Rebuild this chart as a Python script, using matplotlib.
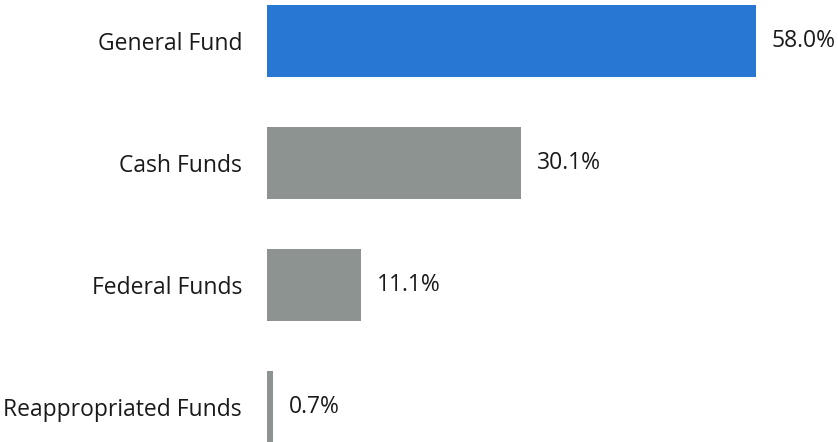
import matplotlib.pyplot as plt

# данные
categories = ['General Fund', 'Cash Funds', 'Federal Funds', 'Reappropriated Funds']
shares = [58.0, 30.1, 11.1, 0.7]
bar_colors = ['#2777D3', '#8C9391', '#8C9391', '#8C9391']

plt.rcParams['font.family'] = ['Open Sans', 'DejaVu Sans']

fig = plt.figure(figsize=(8.38, 4.42), dpi=100)
ax = fig.add_axes([267 / 838, 0, 1 - 267 / 838, 1])

y = list(range(len(categories)))
ax.barh(y, shares, height=0.59, color=bar_colors)

# подписи значений
for yi, v in zip(y, shares):
    ax.annotate(f'{v:.1f}%', (v, yi), xytext=(11.5, 0), textcoords='offset points',
                va='center', ha='left', fontsize=16.5, color='#1a1a1a')

ax.set_xlim(0, 571 / 8.43)
ax.set_ylim((442 - 41) / 122, -41 / 122)
ax.set_yticks(y)
ax.set_yticklabels(categories, fontsize=16.5, color='#1a1a1a')
ax.tick_params(axis='y', length=0, pad=18)
ax.set_xticks([])
for s in ax.spines.values():
    s.set_visible(False)

fig.savefig('out.png', dpi=100)
